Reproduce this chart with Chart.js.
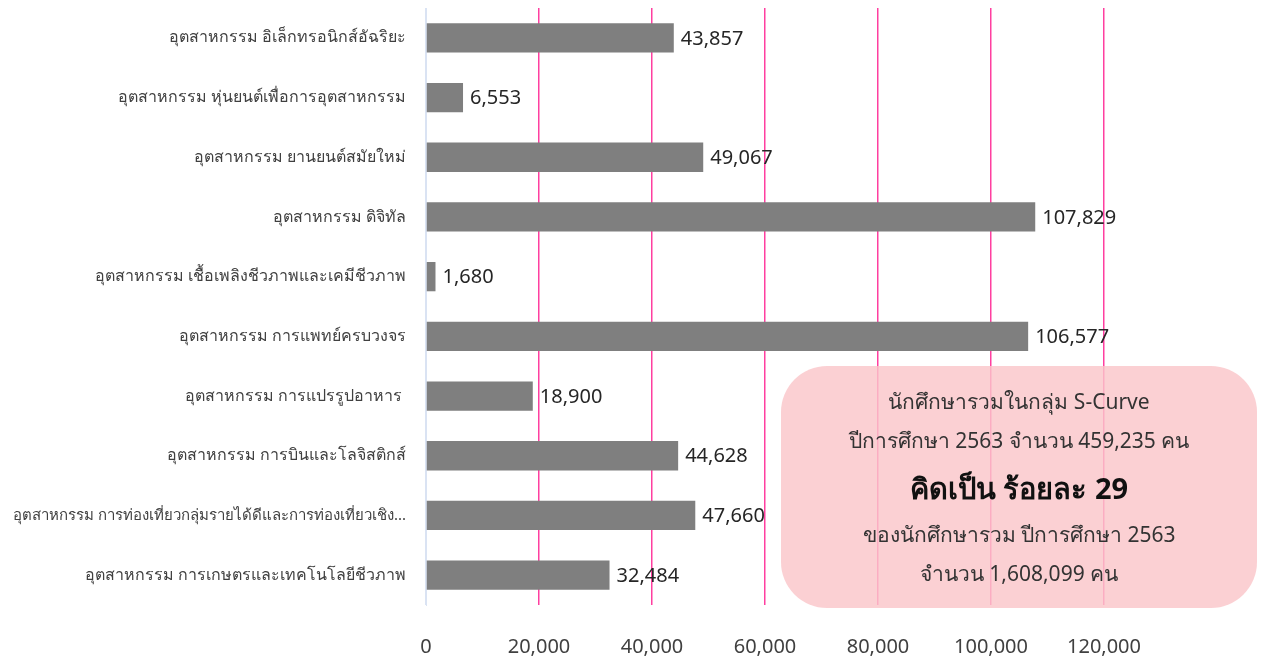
<!DOCTYPE html>
<html>
<head>
<meta charset="utf-8">
<script src="https://cdn.jsdelivr.net/npm/chart.js@4.4.1/dist/chart.umd.min.js"></script>
<style>
  html, body { margin: 0; padding: 0; background: #fff; }
  #wrap { position: relative; width: 1263px; height: 659px; }
  #note {
    position: absolute; left: 781px; top: 366px; width: 476px; height: 242px;
    border-radius: 46px; background: rgba(250, 198, 201, 0.82);
    font-family: "Noto Sans", "DejaVu Sans", sans-serif; color: #333;
    text-align: center; box-sizing: border-box; padding-top: 16px;
  }
  #note div { font-size: 21px; line-height: 39px; }
  #note .big { font-size: 29px; font-weight: bold; color: #111; line-height: 55px; }
</style>
</head>
<body>
<div id="wrap">
  <canvas id="c" width="1263" height="659"></canvas>
  <div id="note">
    <div>นักศึกษารวมในกลุ่ม S-Curve</div>
    <div>ปีการศึกษา 2563 จำนวน 459,235 คน</div>
    <div class="big">คิดเป็น ร้อยละ 29</div>
    <div>ของนักศึกษารวม ปีการศึกษา 2563</div>
    <div>จำนวน 1,608,099 คน</div>
  </div>
</div>
<script>
// ---------- Dados ----------
const categories = [
  "อุตสาหกรรม อิเล็กทรอนิกส์อัฉริยะ",
  "อุตสาหกรรม หุ่นยนต์เพื่อการอุตสาหกรรม",
  "อุตสาหกรรม ยานยนต์สมัยใหม่",
  "อุตสาหกรรม ดิจิทัล",
  "อุตสาหกรรม เชื้อเพลิงชีวภาพและเคมีชีวภาพ",
  "อุตสาหกรรม การแพทย์ครบวงจร",
  "อุตสาหกรรม การแปรรูปอาหาร ",
  "อุตสาหกรรม การบินและโลจิสติกส์",
  "อุตสาหกรรม การท่องเที่ยวกลุ่มรายได้ดีและการท่องเที่ยวเชิง...",
  "อุตสาหกรรม การเกษตรและเทคโนโลยีชีวภาพ"
];
const students = [43857, 6553, 49067, 107829, 1680, 106577, 18900, 44628, 47660, 32484];
const axisMax = 120000;
const axisStep = 20000;

const FONT = '"Noto Sans", "DejaVu Sans", sans-serif';

// ---------- Rótulos nas barras ----------
const barLabels = {
  id: 'barLabels',
  afterDatasetsDraw(chart) {
    const ctx = chart.ctx;
    const meta = chart.getDatasetMeta(0);
    ctx.save();
    ctx.font = '20px ' + FONT;
    ctx.fillStyle = '#262626';
    ctx.textAlign = 'left';
    ctx.textBaseline = 'middle';
    meta.data.forEach((bar, i) => {
      ctx.fillText(students[i].toLocaleString('en-US'), bar.x + 7, bar.y + 1);
    });
    ctx.restore();
  }
};

new Chart(document.getElementById('c'), {
  type: 'bar',
  data: {
    labels: categories,
    datasets: [{
      data: students,
      backgroundColor: '#7f7f7f',
      borderWidth: 0,
      barPercentage: 0.49,
      categoryPercentage: 1
    }]
  },
  options: {
    indexAxis: 'y',
    responsive: false,
    animation: false,
    layout: { padding: { top: 8, right: 159, bottom: 0, left: 0 } },
    plugins: { legend: { display: false }, tooltip: { enabled: false } },
    scales: {
      x: {
        min: 0, max: axisMax,
        ticks: {
          stepSize: axisStep,
          padding: 30,
          color: '#404040',
          font: { family: FONT, size: 20 },
          callback: v => v.toLocaleString('en-US')
        },
        grid: {
          color: c => (c.tick && c.tick.value === 0) ? '#dae3f3' : '#ff3fa0',
          lineWidth: 1.5,
          drawTicks: false
        },
        border: { display: false },
        afterFit: s => { s.height = 54; s.paddingLeft = 0; }
      },
      y: {
        ticks: {
          padding: 20,
          color: '#404040',
          font: c => ({ family: FONT, size: c.index === 8 ? 15 : 16 }),
          autoSkip: false
        },
        grid: { display: false, drawTicks: false },
        border: { display: true, color: '#dae3f3', width: 1 },
        afterFit: s => { s.width = 426; s.paddingTop = 0; s.paddingBottom = 0; }
      }
    }
  },
  plugins: [barLabels]
});
</script>
</body>
</html>
